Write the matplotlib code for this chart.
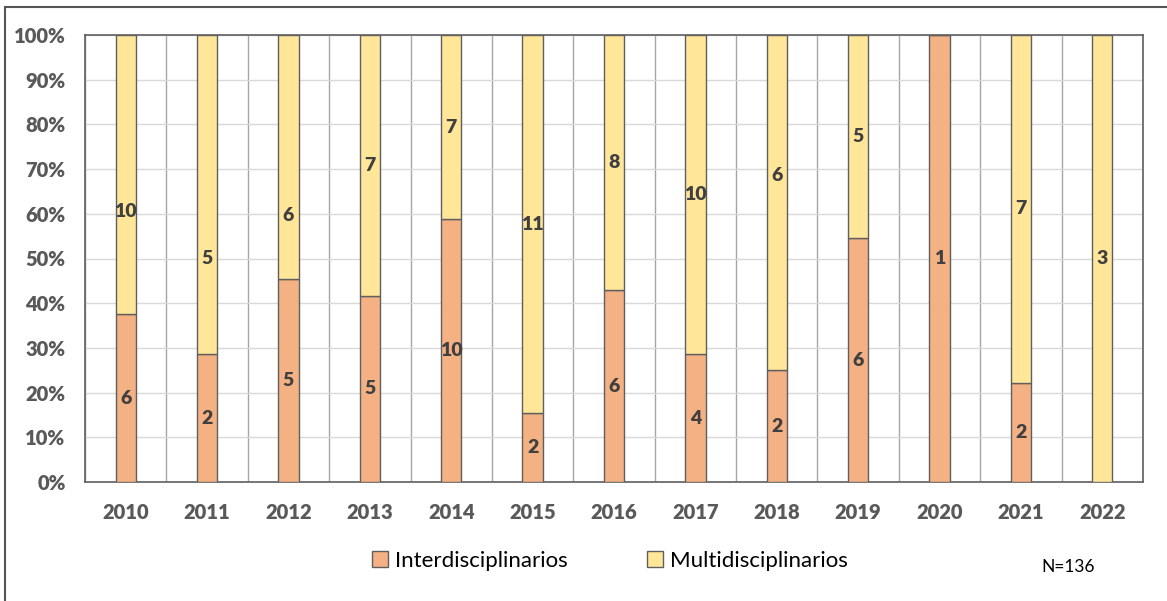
import numpy as np
import matplotlib
matplotlib.use('Agg')
import matplotlib.pyplot as plt
from matplotlib import font_manager
from matplotlib.patches import Rectangle, Patch
from matplotlib.ticker import FuncFormatter, MultipleLocator

years = ['2010', '2011', '2012', '2013', '2014', '2015', '2016',
         '2017', '2018', '2019', '2020', '2021', '2022']
inter = [6, 2, 5, 5, 10, 2, 6, 4, 2, 6, 1, 2, 0]
multi = [10, 5, 6, 7, 7, 11, 8, 10, 6, 5, 0, 7, 3]
n_total = 136

# where the multi label sits inside its segment (0.5 = centre); a few were moved by hand
multi_label_anchor = {'2010': 0.37, '2011': 0.30, '2012': 0.26, '2018': 0.58}

c_inter = '#F4B183'
c_multi = '#FFE699'
edge = '#5f5f5f'

plt.rcParams['font.family'] = ['Lato', 'DejaVu Sans']


def heavy(size):
    # Lato Heavy reads closer to the Calibri Bold of the original
    return font_manager.FontProperties(family='Lato', weight=800, size=size)


inter_a = np.array(inter, dtype=float)
multi_a = np.array(multi, dtype=float)
tot = inter_a + multi_a
p_inter = inter_a / tot * 100
p_multi = multi_a / tot * 100

fig = plt.figure(figsize=(11.67, 6.01), dpi=100)
ax = fig.add_axes([85 / 1167, 1 - 482 / 601, (1143 - 85) / 1167, (482 - 35) / 601])

x = np.arange(len(years))
w = 0.25
ax.bar(x, p_inter, w, color=c_inter, edgecolor=edge, linewidth=1, zorder=3,
       label='Interdisciplinarios')
ax.bar(x, p_multi, w, bottom=p_inter, color=c_multi, edgecolor=edge, linewidth=1,
       zorder=3, label='Multidisciplinarios')

lab_kw = dict(ha='center', va='center', color='#404040', zorder=4,
              fontproperties=heavy(14))
for i, y in enumerate(years):
    if inter[i] > 0:
        ax.text(x[i], p_inter[i] / 2, str(inter[i]), **lab_kw)
    if multi[i] > 0:
        a = multi_label_anchor.get(y, 0.5)
        ax.text(x[i], p_inter[i] + p_multi[i] * a, str(multi[i]), **lab_kw)

ax.set_xlim(-0.5, len(years) - 0.5)
ax.set_ylim(0, 100)
ax.yaxis.set_major_locator(MultipleLocator(10))
ax.yaxis.set_major_formatter(FuncFormatter(lambda v, p: f'{v:.0f}%'))
ax.set_xticks(x)
ax.set_xticklabels(years)
ax.set_xticks(np.arange(len(years) + 1) - 0.5, minor=True)

ax.grid(axis='y', which='major', color='#d9d9d9', linewidth=1, zorder=0)
ax.grid(axis='x', which='minor', color='#a6a6a6', linewidth=1, zorder=0)
ax.tick_params(axis='both', which='both', length=0)
ax.tick_params(axis='x', pad=15)
ax.tick_params(axis='y', pad=14)
for lab in ax.get_xticklabels() + ax.get_yticklabels():
    lab.set_fontproperties(heavy(14.5))
    lab.set_color('#595959')
for s in ax.spines.values():
    s.set_color(edge)
    s.set_linewidth(1.2)

handles = [Patch(facecolor=c_inter, edgecolor=edge, label='Interdisciplinarios'),
           Patch(facecolor=c_multi, edgecolor=edge, label='Multidisciplinarios')]
fig.legend(handles=handles, loc='center', bbox_to_anchor=(610 / 1167, 1 - 561 / 601),
           ncol=2, frameon=False, fontsize=16, handlelength=0.7, handleheight=0.7,
           handletextpad=0.3, columnspacing=3.6)

fig.text(1068 / 1167, 1 - 567 / 601, f'N={n_total}', ha='center', va='center',
         fontsize=12.5, color='black')

# outer frame (only left and top edges visible in the crop)
fig.patches.append(Rectangle((5 / 1167, -0.1), 1.2, 1 - 7 / 601 + 0.1,
                             transform=fig.transFigure, fill=False,
                             edgecolor='#555555', linewidth=1.5))

fig.savefig('out.png', dpi=100)
